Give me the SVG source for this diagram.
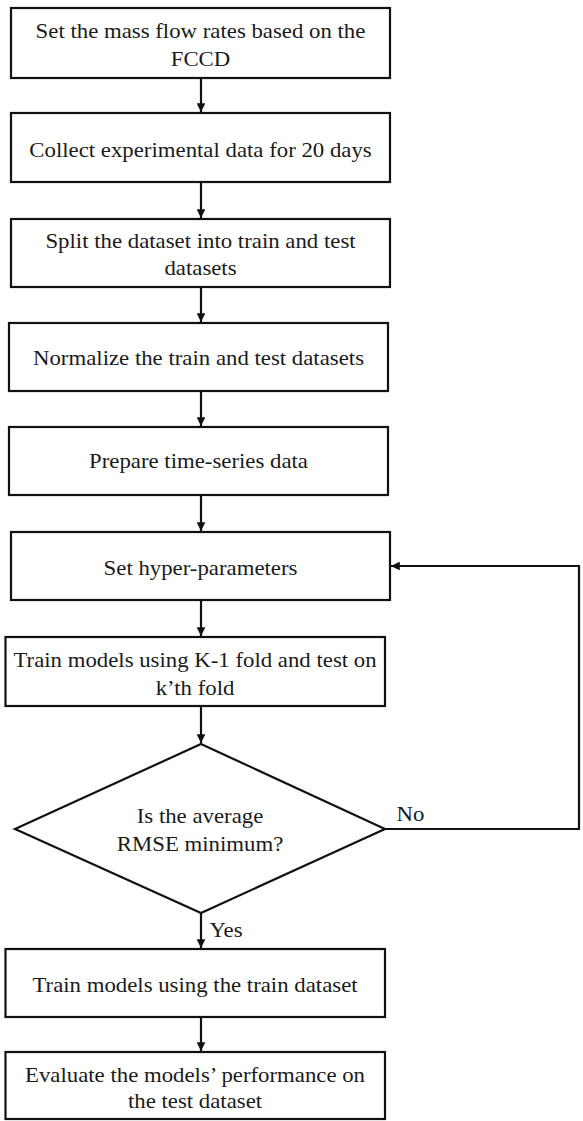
<svg xmlns="http://www.w3.org/2000/svg" width="583" height="1121" viewBox="0 0 583 1121">
<style>
.box{fill:#fff;stroke:#111;stroke-width:2.2}
.t{font-family:"Liberation Serif","Times New Roman",serif;font-size:20px;fill:#1a1a1a;text-anchor:middle}
.c{fill:none;stroke:#111;stroke-width:2.2}
</style>
<defs>
<marker id="ah" viewBox="0 0 10 10" refX="10" refY="5" markerWidth="4" markerHeight="4" orient="auto" markerUnits="strokeWidth">
<path d="M0,0 L10,5 L0,10 Z" fill="#111"/>
</marker>
</defs>
<rect width="583" height="1121" fill="#fff"/>
<g id="connectors">
<line class="c" x1="201" y1="78" x2="201" y2="112" marker-end="url(#ah)"/>
<line class="c" x1="201" y1="182" x2="201" y2="218" marker-end="url(#ah)"/>
<line class="c" x1="201" y1="287" x2="201" y2="322" marker-end="url(#ah)"/>
<line class="c" x1="201" y1="391" x2="201" y2="426" marker-end="url(#ah)"/>
<line class="c" x1="201" y1="495" x2="201" y2="531" marker-end="url(#ah)"/>
<line class="c" x1="201" y1="600" x2="201" y2="636" marker-end="url(#ah)"/>
<line class="c" x1="201" y1="706" x2="201" y2="743" marker-end="url(#ah)"/>
<line class="c" x1="201" y1="913" x2="201" y2="948" marker-end="url(#ah)"/>
<line class="c" x1="201" y1="1017" x2="201" y2="1051" marker-end="url(#ah)"/>
<path class="c" d="M385,829 H579 V566 H391" marker-end="url(#ah)"/>
<text class="t" transform="translate(410.5 821) scale(1.14 1)">No</text>
<text class="t" transform="translate(226 937) scale(1.14 1)">Yes</text>
</g>
<g id="n1">
<rect class="box" x="11" y="8" width="379" height="70"/>
<text class="t" transform="translate(200.5 38) scale(1.14 1)">Set the mass flow rates based on the</text>
<text class="t" transform="translate(200.5 66) scale(1.14 1)">FCCD</text>
</g>
<g id="n2">
<rect class="box" x="11" y="113" width="379" height="69"/>
<text class="t" transform="translate(200.5 157) scale(1.14 1)">Collect experimental data for 20 days</text>
</g>
<g id="n3">
<rect class="box" x="11" y="219" width="379" height="68"/>
<text class="t" transform="translate(200.5 248) scale(1.14 1)">Split the dataset into train and test</text>
<text class="t" transform="translate(200.5 275) scale(1.14 1)">datasets</text>
</g>
<g id="n4">
<rect class="box" x="9" y="323" width="379" height="68"/>
<text class="t" transform="translate(198.5 365) scale(1.14 1)">Normalize the train and test datasets</text>
</g>
<g id="n5">
<rect class="box" x="9" y="427" width="379" height="68"/>
<text class="t" transform="translate(198.5 468) scale(1.14 1)">Prepare time-series data</text>
</g>
<g id="n6">
<rect class="box" x="11" y="532" width="379" height="68"/>
<text class="t" transform="translate(200.5 575) scale(1.14 1)">Set hyper-parameters</text>
</g>
<g id="n7">
<rect class="box" x="5.5" y="637" width="379.5" height="69"/>
<text class="t" transform="translate(195 667) scale(1.14 1)">Train models using K-1 fold and test on</text>
<text class="t" transform="translate(195 695) scale(1.14 1)">k’th fold</text>
</g>
<g id="n8">
<polygon class="box" points="201,744 385,829 201,913 15,829"/>
<text class="t" transform="translate(200 823) scale(1.14 1)">Is the average</text>
<text class="t" transform="translate(200 851) scale(1.14 1)">RMSE minimum?</text>
</g>
<g id="n9">
<rect class="box" x="5.5" y="949" width="379.5" height="68"/>
<text class="t" transform="translate(195 992) scale(1.14 1)">Train models using the train dataset</text>
</g>
<g id="n10">
<rect class="box" x="5.5" y="1052" width="379.5" height="67"/>
<text class="t" transform="translate(195 1082) scale(1.14 1)">Evaluate the models’ performance on</text>
<text class="t" transform="translate(195 1108) scale(1.14 1)">the test dataset</text>
</g>
</svg>
